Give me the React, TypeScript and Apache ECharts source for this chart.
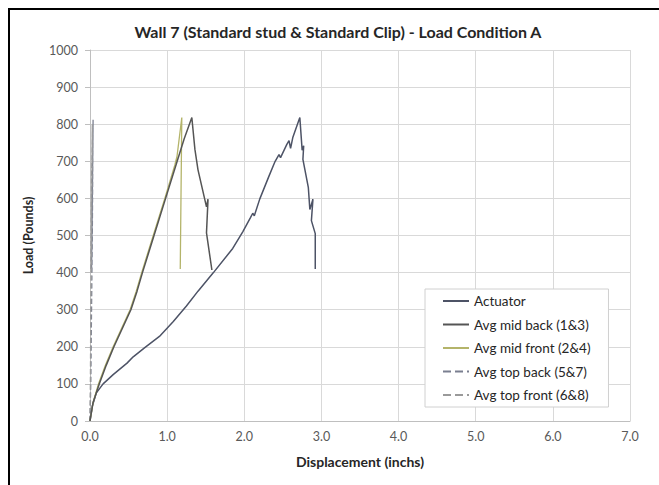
import React, { useEffect, useRef } from "react";
import * as echarts from "echarts";

const title = "Wall 7 (Standard stud & Standard Clip) - Load Condition A";
const seriesNames = [
  "Actuator",
  "Avg mid back (1&3)",
  "Avg mid front (2&4)",
  "Avg top back (5&7)",
  "Avg top front (6&8)",
];

const actuator: [number, number][] = [
  [0, 0], [0.03, 40], [0.08, 75], [0.17, 100], [0.3, 125], [0.48, 156], [0.56, 173],
  [0.71, 198], [0.9, 228], [1.08, 268], [1.25, 310], [1.4, 350], [1.6, 400],
  [1.85, 465], [1.98, 510], [2.08, 548], [2.11, 560], [2.13, 553], [2.2, 598],
  [2.32, 660], [2.4, 700], [2.45, 718], [2.47, 710], [2.55, 745], [2.58, 756],
  [2.6, 735], [2.63, 765], [2.72, 818], [2.75, 730], [2.77, 742], [2.76, 705],
  [2.83, 630], [2.85, 570], [2.89, 598], [2.87, 540], [2.92, 505], [2.92, 410],
];

const midBack: [number, number][] = [
  [0, 0], [0.04, 50], [0.12, 100], [0.21, 150], [0.31, 200], [0.42, 250], [0.53, 300],
  [0.61, 350], [0.68, 400], [0.83, 500], [0.98, 600], [1.13, 700], [1.22, 760],
  [1.32, 818], [1.36, 732], [1.4, 677], [1.51, 577], [1.53, 598], [1.51, 507],
  [1.58, 407],
];

const midFront: [number, number][] = [
  [0, 0], [0.04, 50], [0.11, 100], [0.2, 150], [0.3, 200], [0.41, 250], [0.52, 300],
  [0.6, 350], [0.67, 400], [0.82, 500], [0.97, 600], [1.1, 690], [1.13, 715],
  [1.12, 700], [1.19, 818], [1.17, 410],
];

const topBack: [number, number][] = [
  [0, 0], [0.01, 100], [0.02, 300], [0.03, 500], [0.04, 812], [0.035, 700],
  [0.02, 400],
];

const topFront: [number, number][] = [
  [0, 0], [0.005, 100], [0.01, 300], [0.02, 500], [0.03, 800], [0.02, 650],
  [0.01, 410],
];

const xTicks = [0, 1, 2, 3, 4, 5, 6, 7];

export default function App() {
  const ref = useRef<HTMLDivElement>(null);
  useEffect(() => {
    if (!ref.current) return;
    const chart = echarts.init(ref.current, null, { renderer: "svg" });
    const font = "Lato, 'Open Sans', sans-serif";
    const lineSeries = (
      name: string,
      data: [number, number][],
      color: string,
      type: string,
      width: number,
      z: number
    ) => ({
      name,
      type: "line",
      data,
      symbol: "none",
      z,
      lineStyle: { color, width, type },
      itemStyle: { color },
    });
    chart.setOption({
      animation: false,
      backgroundColor: "#fff",
      title: {
        text: title,
        left: 333,
        textAlign: "center",
        top: 18,
        textStyle: { fontFamily: font, fontSize: 16, fontWeight: "bold", color: "#262626" },
      },
      grid: { left: 90, right: 29, top: 50, bottom: 64 },
      xAxis: {
        type: "value",
        min: 0,
        max: 7,
        interval: 1,
        name: "Displacement (inchs)",
        nameLocation: "middle",
        nameGap: 33,
        nameTextStyle: { fontFamily: font, fontSize: 14, fontWeight: "bold", color: "#262626" },
        axisLine: { show: true, lineStyle: { color: "#bfbfbf" } },
        axisTick: { show: false },
        axisLabel: {
          fontFamily: font,
          fontSize: 12.5,
          color: "#595959",
          margin: 9,
          formatter: (v: number) => (xTicks.includes(v) ? v.toFixed(1) : ""),
        },
        splitLine: { show: true, lineStyle: { color: "#d9d9d9" } },
      },
      yAxis: {
        type: "value",
        min: 0,
        max: 1000,
        interval: 100,
        name: "Load (Pounds)",
        nameLocation: "middle",
        nameGap: 55,
        nameTextStyle: { fontFamily: font, fontSize: 12.5, fontWeight: "bold", color: "#262626" },
        axisLine: { show: true, lineStyle: { color: "#bfbfbf" } },
        axisTick: { show: true, length: 5, lineStyle: { color: "#bfbfbf" } },
        axisLabel: {
          fontFamily: font,
          fontSize: 12.5,
          color: "#595959",
          margin: 12,
          formatter: (v: number) => String(v),
        },
        splitLine: { show: true, lineStyle: { color: "#d9d9d9" } },
      },
      legend: {
        orient: "vertical",
        left: 425,
        top: 289,
        padding: [5, 18, 5, 17],
        itemGap: 9.5,
        itemWidth: 26,
        itemHeight: 14,
        backgroundColor: "#fff",
        borderColor: "#d0d0d0",
        borderWidth: 1,
        borderRadius: 0,
        itemStyle: { opacity: 0 },
        textStyle: { fontFamily: font, fontSize: 13.5, color: "#262626" },
        data: seriesNames,
      },
      visualMap: {
        show: false,
        type: "piecewise",
        seriesIndex: 1,
        dimension: 0,
        pieces: [{ gte: 1.345, lte: 1.41, color: "#c8465e" }],
        outOfRange: { color: "#555555" },
      },
      series: [
        lineSeries(seriesNames[0], actuator, "#4d5366", "solid", 1.5, 3),
        lineSeries(seriesNames[1], midBack, "#555555", "solid", 1.5, 5),
        lineSeries(seriesNames[2], midFront, "#b4b46a", "solid", 1.3, 4),
        lineSeries(seriesNames[3], topBack, "#7a7f90", "dashed", 1.3, 2),
        lineSeries(seriesNames[4], topFront, "#9a9a9a", "dashed", 1.3, 2),
      ],
      graphic: [
        {
          type: "rect",
          shape: { x: 9, y: 9, width: 720, height: 520 },
          style: { fill: "none", stroke: "#000", lineWidth: 2 },
          z: 100,
          silent: true,
        },
      ],
    });
    return () => chart.dispose();
  }, []);
  return (
    <div
      ref={ref}
      style={{ position: "absolute", left: 0, top: 0, width: 659, height: 485 }}
    />
  );
}
